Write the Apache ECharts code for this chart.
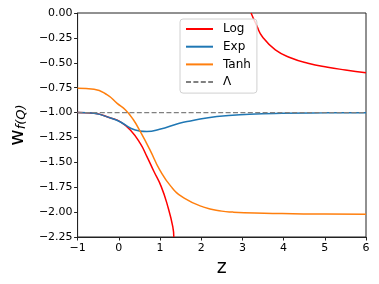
<!DOCTYPE html>
<html><head><meta charset="utf-8">
<script src="https://cdn.jsdelivr.net/npm/echarts@6/dist/echarts.min.js"></script>
<style>html,body{margin:0;padding:0;background:#fff}#c{width:379px;height:284px}</style>
</head><body><div id="c"></div>
<script>
// Log (lower branch)
var logLowZ = [-1, -0.6, -0.2, 0.04, 0.28, 0.52, 0.68, 0.85, 1.03, 1.19, 1.31, 1.335];
var logLowW = [-1.0, -1.007, -1.055, -1.093, -1.175, -1.31, -1.44, -1.59, -1.744, -1.945, -2.146, -2.25];
// Log (upper branch)
var logHighZ = [3.21, 3.35, 3.485, 3.80, 4.20, 4.59, 5.07, 5.5, 6.0];
var logHighW = [0, -0.13, -0.238, -0.37, -0.455, -0.505, -0.545, -0.572, -0.60];
// Exp
var expZ = [-1, -0.8, -0.6, -0.2, 0.04, 0.3, 0.5, 0.68, 0.99, 1.47, 1.74, 2.38, 3.17, 3.96, 5, 6];
var expW = [-1.0, -1.002, -1.008, -1.055, -1.095, -1.16, -1.185, -1.19, -1.168, -1.107, -1.084, -1.04, -1.017, -1.007, -1.003, -1.002];
// Tanh
var tanhZ = [-1, -0.6, -0.28, -0.04, 0.163, 0.35, 0.52, 0.756, 0.993, 1.27, 1.587, 2.06, 2.5, 2.77, 3.3, 3.96, 5, 6];
var tanhW = [-0.756, -0.766, -0.823, -0.907, -0.974, -1.07, -1.19, -1.375, -1.576, -1.744, -1.86, -1.95, -1.99, -2.0, -2.01, -2.015, -2.02, -2.022];
// Lambda
var lamZ = [-1, 6];
var lamW = [-1, -1];

function pairs(a, b) { return a.map(function (v, i) { return [v, b[i]]; }); }
function minus(s) { return String(s).replace('-', '\u2212'); }

var chart = echarts.init(document.getElementById('c'));
var lineBase = { type: 'line', symbol: 'none', showSymbol: false, smooth: true, clip: true };
chart.setOption({
  animation: false,
  textStyle: { fontFamily: 'DejaVu Sans' },
  grid: { left: 71, right: 13, top: 13, bottom: 47, show: true, borderColor: '#222', borderWidth: 1 },
  legend: {
    orient: 'vertical', left: 180, top: 19,
    data: ['Log', 'Exp', 'Tanh', '\u039b'],
    itemWidth: 27, itemHeight: 14, itemGap: 5.7,
    itemStyle: { opacity: 0 },
    padding: [4, 6, 5, 5],
    backgroundColor: 'rgba(255,255,255,0.8)', borderColor: '#d0d0d0', borderWidth: 1, borderRadius: 3,
    textStyle: { fontSize: 12, color: '#000', fontFamily: 'DejaVu Sans', padding: [0, 0, 0, 5] }
  },
  xAxis: {
    type: 'value', min: -1, max: 6, interval: 1,
    name: 'z', nameLocation: 'middle', nameGap: 19,
    nameTextStyle: { fontSize: 19, color: '#000', fontFamily: 'DejaVu Sans' },
    axisLine: { onZero: false, lineStyle: { color: '#222', width: 1 } },
    axisTick: { inside: false, length: 3.5, lineStyle: { color: '#222' } },
    axisLabel: { margin: 6, fontSize: 11, color: '#000', formatter: function (v) { return minus(v); } },
    splitLine: { show: false }
  },
  yAxis: {
    type: 'value', min: -2.25, max: 0, interval: 0.25,
    name: '{w|w}{s|f(Q)}', nameLocation: 'middle', nameGap: 46, nameRotate: 90,
    nameTextStyle: {
      rich: {
        w: { fontSize: 20, color: '#000', fontFamily: 'DejaVu Sans', verticalAlign: 'bottom' },
        s: { fontSize: 13, color: '#000', fontFamily: 'DejaVu Sans', fontStyle: 'italic', verticalAlign: 'bottom' }
      }
    },
    axisLine: { onZero: false, lineStyle: { color: '#222', width: 1 } },
    axisTick: { inside: false, length: 3.5, lineStyle: { color: '#222' } },
    axisLabel: { margin: 5, fontSize: 11, color: '#000', formatter: function (v) { return minus(v.toFixed(2)); } },
    splitLine: { show: false }
  },
  series: [
    Object.assign({}, lineBase, { name: 'Log', data: pairs(logLowZ, logLowW), lineStyle: { color: '#ff0000', width: 1.5 }, itemStyle: { color: '#ff0000' } }),
    Object.assign({}, lineBase, { name: 'Log', data: pairs(logHighZ, logHighW), lineStyle: { color: '#ff0000', width: 1.5 }, itemStyle: { color: '#ff0000' } }),
    Object.assign({}, lineBase, { name: 'Exp', data: pairs(expZ, expW), lineStyle: { color: '#1f77b4', width: 1.5 }, itemStyle: { color: '#1f77b4' } }),
    Object.assign({}, lineBase, { name: 'Tanh', data: pairs(tanhZ, tanhW), lineStyle: { color: '#ff7f0e', width: 1.5 }, itemStyle: { color: '#ff7f0e' } }),
    Object.assign({}, lineBase, { name: '\u039b', smooth: false, data: pairs(lamZ, lamW), lineStyle: { color: '#808080', width: 1.2, type: [5, 2.4] }, itemStyle: { color: '#808080' } })
  ]
});
</script></body></html>
